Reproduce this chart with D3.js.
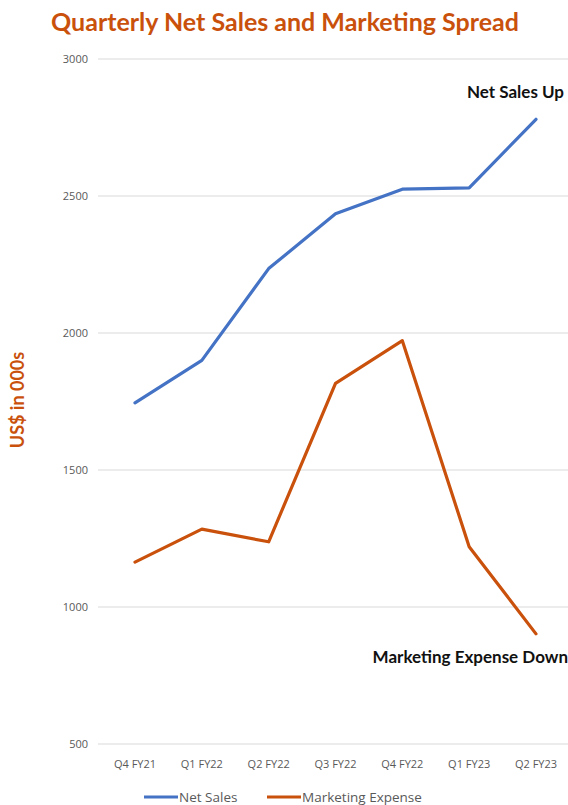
<!DOCTYPE html>
<html><head><meta charset="utf-8">
<script src="https://cdn.jsdelivr.net/npm/d3@7"></script>
<style>body{margin:0;background:#fff}svg{display:block}</style>
</head><body>
<script>
const categories = ["Q4 FY21","Q1 FY22","Q2 FY22","Q3 FY22","Q4 FY22","Q1 FY23","Q2 FY23"];
const netSales = [1745, 1900, 2235, 2435, 2525, 2530, 2780];
const marketingExpense = [1164, 1284, 1238, 1816, 1972, 1220, 902];
const yTicks = [500, 1000, 1500, 2000, 2500, 3000];
const seriesNames = ["Net Sales", "Marketing Expense"];
const colors = ["#4472C4", "#C9510C"];

const W = 568, H = 805;
const svg = d3.select("body").append("svg").attr("width", W).attr("height", H);

const y = d3.scaleLinear().domain([500, 3000]).range([744, 59]);
const x = d3.scalePoint().domain(categories).range([135, 536]);

svg.append("text").attr("x", 285).attr("y", 31).attr("text-anchor", "middle")
  .attr("font-family", "Lato, 'Open Sans', sans-serif").attr("font-weight", "bold")
  .attr("font-size", 25).attr("fill", colors[1])
  .text("Quarterly Net Sales and Marketing Spread");

// gridlines
svg.append("g").selectAll("line").data(yTicks).join("line")
  .attr("x1", 98).attr("x2", 568)
  .attr("y1", d => y(d)).attr("y2", d => y(d))
  .attr("stroke", "#d9d9d9").attr("stroke-width", 1);

// y tick labels
svg.append("g").selectAll("text").data(yTicks).join("text")
  .attr("x", 88).attr("y", d => y(d) + 4).attr("text-anchor", "end")
  .attr("font-family", "'Open Sans', sans-serif").attr("font-size", 11).attr("fill", "#595959")
  .text(d => d);

// x labels
svg.append("g").selectAll("text").data(categories).join("text")
  .attr("x", d => x(d)).attr("y", 768).attr("text-anchor", "middle")
  .attr("font-family", "'Open Sans', sans-serif").attr("font-size", 11).attr("fill", "#595959")
  .text(d => d);

// y axis title
svg.append("text").attr("transform", "translate(24,400) rotate(-90)").attr("text-anchor", "middle")
  .attr("font-family", "Lato, sans-serif").attr("font-weight", "bold").attr("font-size", 18)
  .attr("fill", colors[1]).text("US$ in 000s");

const line = d3.line().x((d, i) => x(categories[i])).y(d => y(d));
[netSales, marketingExpense].forEach((s, k) => {
  svg.append("path").datum(s).attr("d", line).attr("fill", "none")
    .attr("stroke", colors[k]).attr("stroke-width", 3.2)
    .attr("stroke-linejoin", "round").attr("stroke-linecap", "round");
});

// annotations
svg.append("text").attr("x", 564).attr("y", 98).attr("text-anchor", "end")
  .attr("font-family", "Lato, sans-serif").attr("font-weight", "bold").attr("font-size", 17)
  .attr("fill", "#111").text("Net Sales Up");
svg.append("text").attr("x", 568).attr("y", 663).attr("text-anchor", "end")
  .attr("font-family", "Lato, sans-serif").attr("font-weight", "bold").attr("font-size", 17)
  .attr("fill", "#111").text("Marketing Expense Down");

// legend
const legX = [144, 267];
seriesNames.forEach((n, k) => {
  svg.append("line").attr("x1", legX[k]).attr("x2", legX[k] + 34)
    .attr("y1", 797).attr("y2", 797).attr("stroke", colors[k]).attr("stroke-width", 3.2);
  svg.append("text").attr("x", legX[k] + 35).attr("y", 801.5)
    .attr("font-family", "'Open Sans', sans-serif").attr("font-size", 13.5).attr("fill", "#595959")
    .text(n);
});
</script>
</body></html>
